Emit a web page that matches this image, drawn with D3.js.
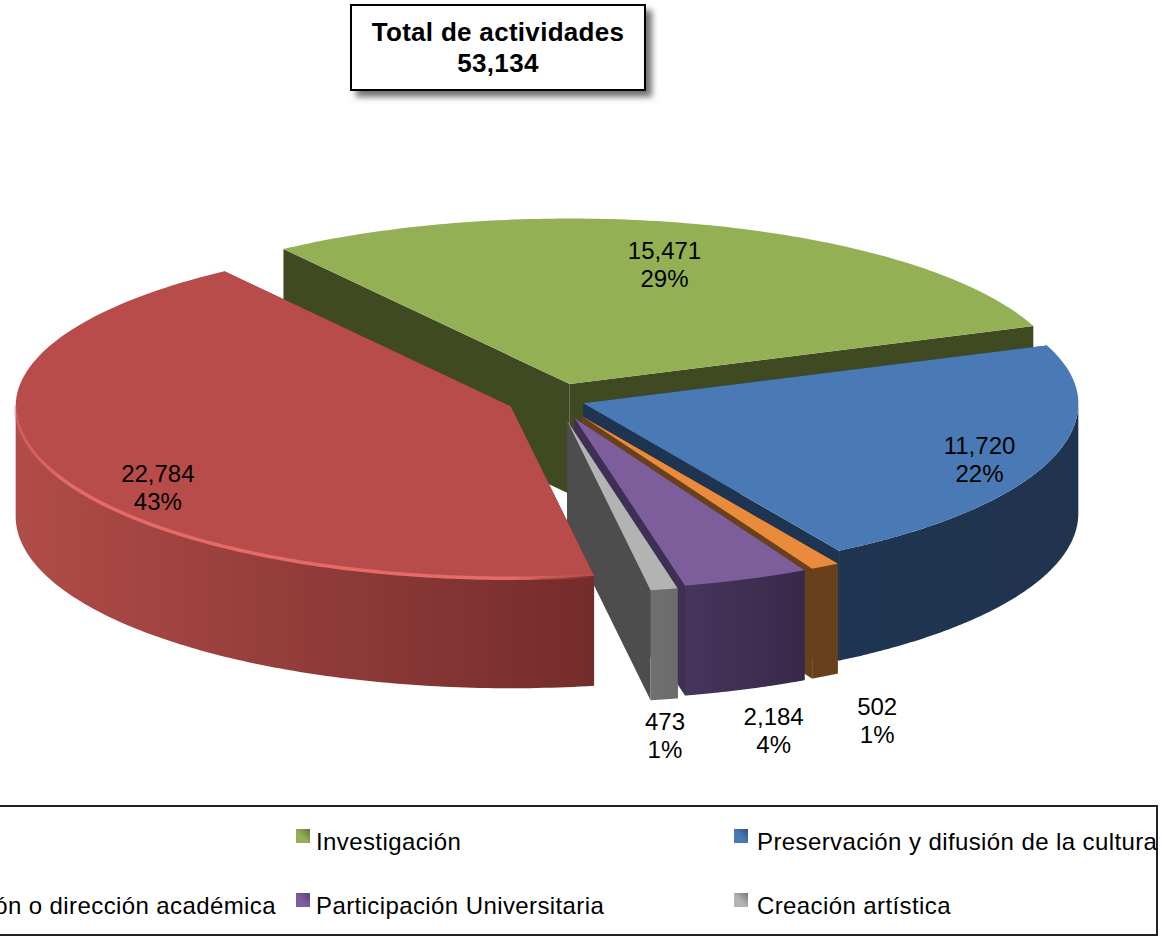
<!DOCTYPE html>
<html>
<head>
<meta charset="utf-8">
<script src="https://cdn.jsdelivr.net/npm/d3@7"></script>
<style>
  html, body { margin: 0; padding: 0; background: #fff; overflow: hidden; }
  text { font-family: "Liberation Sans", Arial, sans-serif; fill: #000; }
</style>
</head>
<body>
<div id="chart"></div>
<script>
// data, in legend order. first legend name is cut off the page in the source
const categories = ["", "Investigación", "Preservación y difusión de la cultura",
  "ón o dirección académica", "Participación Universitaria", "Creación artística"];
const values = [22784, 15471, 11720, 502, 2184, 473];

// how far each slice is pulled out, and where its label sits around its apex
const explode = [48, 50, 30, 55, 56, 62];
const labelDrift = [-10.6, -2.4, 2.6, 1.4, 1.3, 1.8];
const labelRadius = [0.851, 0.756, 0.862, 1.27, 1.236, 1.197];
const labelOutside = [false, false, false, true, true, true];

const topColors = ["#b84c4a", "#93b055", "#4a7ab5", "#e98b3a", "#7d5d9a", "#b3b3b3"];
const wallColors = ["#74302d", "#3f4a22", "#1f3450", "#69401c", "#3f2f55", "#4d4d4d"];
const outerFrom = ["#b04c49", "#3f4a22", "#1f3450", "#69401c", "#46355c", "#707070"];
const outerTo = ["#742c2b", "#3f4a22", "#20344f", "#69401c", "#38294a", "#6c6c6c"];

const width = 1162, height = 937;
const center = { x: 555, y: 400 };
const rx = 495, ryBack = 165.5, ryFront = 172, depth = 110;
const rad = d => d * Math.PI / 180;

const svg = d3.select("#chart").append("svg")
  .attr("width", width)
  .attr("height", height);

const defs = svg.append("defs");

defs.append("filter").attr("id", "boxShadow")
  .attr("x", "-10%").attr("y", "-20%").attr("width", "125%").attr("height", "150%")
  .append("feDropShadow")
  .attr("dx", 6).attr("dy", 6).attr("stdDeviation", 3)
  .attr("flood-color", "#000").attr("flood-opacity", 0.55);

defs.append("filter").attr("id", "soft")
  .append("feGaussianBlur").attr("stdDeviation", 0.7);

const slices = d3.pie()
  .sort(null)
  .value(d => d)
  .startAngle(rad(170.3))
  .endAngle(rad(170.3 + 360))(values);

const line = d3.line();

// apex of a slice once it has been pulled out
const apexOf = d => {
  const mid = (d.startAngle + d.endAngle) / 2;
  const e = explode[d.index];
  return [center.x + Math.sin(mid) * e, center.y - Math.cos(mid) * e * (ryBack / rx) * (Math.cos(mid) > 0 ? 1 : 1.02)];
};

const project = (apex, a, r = 1, drop = 0) => {
  const c = Math.cos(a);
  return [apex[0] + Math.sin(a) * rx * r, apex[1] - c * (c > 0 ? ryBack : ryFront) * r + drop];
};

const arcPoints = (apex, a0, a1, drop = 0) =>
  d3.range(0, 121).map(i => project(apex, a0 + (a1 - a0) * i / 120, 1, drop));

// parts of [a0, a1] that face the viewer (lower half of the ellipse)
const frontParts = (a0, a1) =>
  [[90, 270], [450, 630]]
    .map(w => [Math.max(a0, rad(w[0])), Math.min(a1, rad(w[1]))])
    .filter(w => w[0] < w[1]);

const drawOrder = slices.slice(1).concat(slices[0]);

function drawSlice(d) {
  const i = d.index;
  const apex = apexOf(d);
  const g = svg.append("g").attr("class", "slice");

  [d.startAngle, d.endAngle].forEach(a => {
    const edge = project(apex, a);
    g.append("path")
      .attr("d", line([apex, edge, [edge[0], edge[1] + depth], [apex[0], apex[1] + depth]]) + "Z")
      .attr("fill", wallColors[i]);
  });

  frontParts(d.startAngle, d.endAngle).forEach((part, j) => {
    const top = arcPoints(apex, part[0], part[1]);
    const bottom = arcPoints(apex, part[1], part[0], depth);
    const id = `outer-${i}-${j}`;
    const xs = d3.extent(top, p => p[0]);
    defs.append("linearGradient").attr("id", id)
      .attr("gradientUnits", "userSpaceOnUse")
      .attr("x1", xs[0]).attr("x2", xs[1]).attr("y1", 0).attr("y2", 0)
      .call(lg => {
        lg.append("stop").attr("offset", 0).attr("stop-color", outerFrom[i]);
        lg.append("stop").attr("offset", 1).attr("stop-color", outerTo[i]);
      });
    g.append("path")
      .attr("d", line(top.concat(bottom)) + "Z")
      .attr("fill", `url(#${id})`);
  });

  g.append("path")
    .attr("d", line([apex].concat(arcPoints(apex, d.startAngle, d.endAngle))) + "Z")
    .attr("fill", topColors[i]);

  // soft light rim on the front of the big slice
  if (i === 0) {
    defs.append("linearGradient").attr("id", "rim")
      .attr("gradientUnits", "userSpaceOnUse")
      .attr("x1", 15).attr("x2", 596).attr("y1", 0).attr("y2", 0)
      .call(lg => {
        [[0, 0.3], [0.1, 1], [0.85, 1], [1, 0]].forEach(s => {
          lg.append("stop").attr("offset", s[0]).attr("stop-color", "#e56a68").attr("stop-opacity", s[1]);
        });
      });
    g.append("path")
      .attr("d", line(arcPoints(apex, d.startAngle, rad(270))))
      .attr("fill", "none")
      .attr("stroke", "url(#rim)")
      .attr("stroke-width", 3.5)
      .attr("filter", "url(#soft)");
  }
}

drawOrder.forEach(drawSlice);

// value + percent labels
const total = d3.sum(values);
const fmtValue = d3.format(",");
const fmtPct = d3.format(".0%");

slices.forEach(d => {
  const i = d.index;
  const mid = (d.startAngle + d.endAngle) / 2 + rad(labelDrift[i]);
  const p = project(apexOf(d), mid, labelRadius[i], labelOutside[i] ? depth : 0);
  const t = svg.append("text")
    .attr("class", "label")
    .attr("text-anchor", "middle")
    .attr("font-size", 24);
  t.append("tspan").attr("x", p[0]).attr("y", p[1] - 4).text(fmtValue(d.data));
  t.append("tspan").attr("x", p[0]).attr("y", p[1] + 24).text(fmtPct(d.data / total));
});

// title box
const title = svg.append("g").attr("class", "title");
title.append("rect")
  .attr("x", 351).attr("y", 5).attr("width", 294).attr("height", 85)
  .attr("fill", "#fff").attr("stroke", "#000").attr("stroke-width", 2)
  .attr("filter", "url(#boxShadow)");
title.append("text")
  .attr("x", 498).attr("y", 41)
  .attr("text-anchor", "middle").attr("font-size", 26).attr("font-weight", "bold")
  .attr("letter-spacing", 0.3)
  .text("Total de actividades");
title.append("text")
  .attr("x", 498).attr("y", 72)
  .attr("text-anchor", "middle").attr("font-size", 26).attr("font-weight", "bold")
  .attr("letter-spacing", 0.3)
  .text(fmtValue(total));

// legend, runs off the left of the page like the source
const legend = svg.append("g").attr("class", "legend");
legend.append("rect")
  .attr("x", -10).attr("y", 806).attr("width", 1167).attr("height", 129)
  .attr("fill", "#fff").attr("stroke", "#222").attr("stroke-width", 2);

const legendCol = d3.scaleOrdinal().domain([0, 1, 2]).range([-140, 296, 734]);
const legendRow = d3.scaleOrdinal().domain([0, 1]).range([829, 893]);

categories.forEach((name, i) => {
  if (!name) return;
  const col = i % 3, row = Math.floor(i / 3);
  const x = legendCol(col), y = legendRow(row);
  if (col === 0) {
    legend.append("text")
      .attr("x", 276).attr("y", y + 21)
      .attr("text-anchor", "end")
      .attr("font-size", 24).attr("letter-spacing", 0.4)
      .text(name);
    return;
  }
  const id = `key-${i}`;
  defs.append("linearGradient").attr("id", id)
    .attr("x1", 0).attr("y1", 1).attr("x2", 1).attr("y2", 0)
    .call(lg => {
      lg.append("stop").attr("offset", 0.45).attr("stop-color", topColors[i]);
      lg.append("stop").attr("offset", 1).attr("stop-color", d3.interpolateRgb(topColors[i], wallColors[i])(0.6));
    });
  legend.append("rect")
    .attr("x", x).attr("y", y).attr("width", 14).attr("height", 14)
    .attr("fill", `url(#${id})`);
  legend.append("text")
    .attr("x", x + (col === 1 ? 20 : 23)).attr("y", y + 21)
    .attr("font-size", 24).attr("letter-spacing", 0.4)
    .text(name);
});
</script>
</body>
</html>
